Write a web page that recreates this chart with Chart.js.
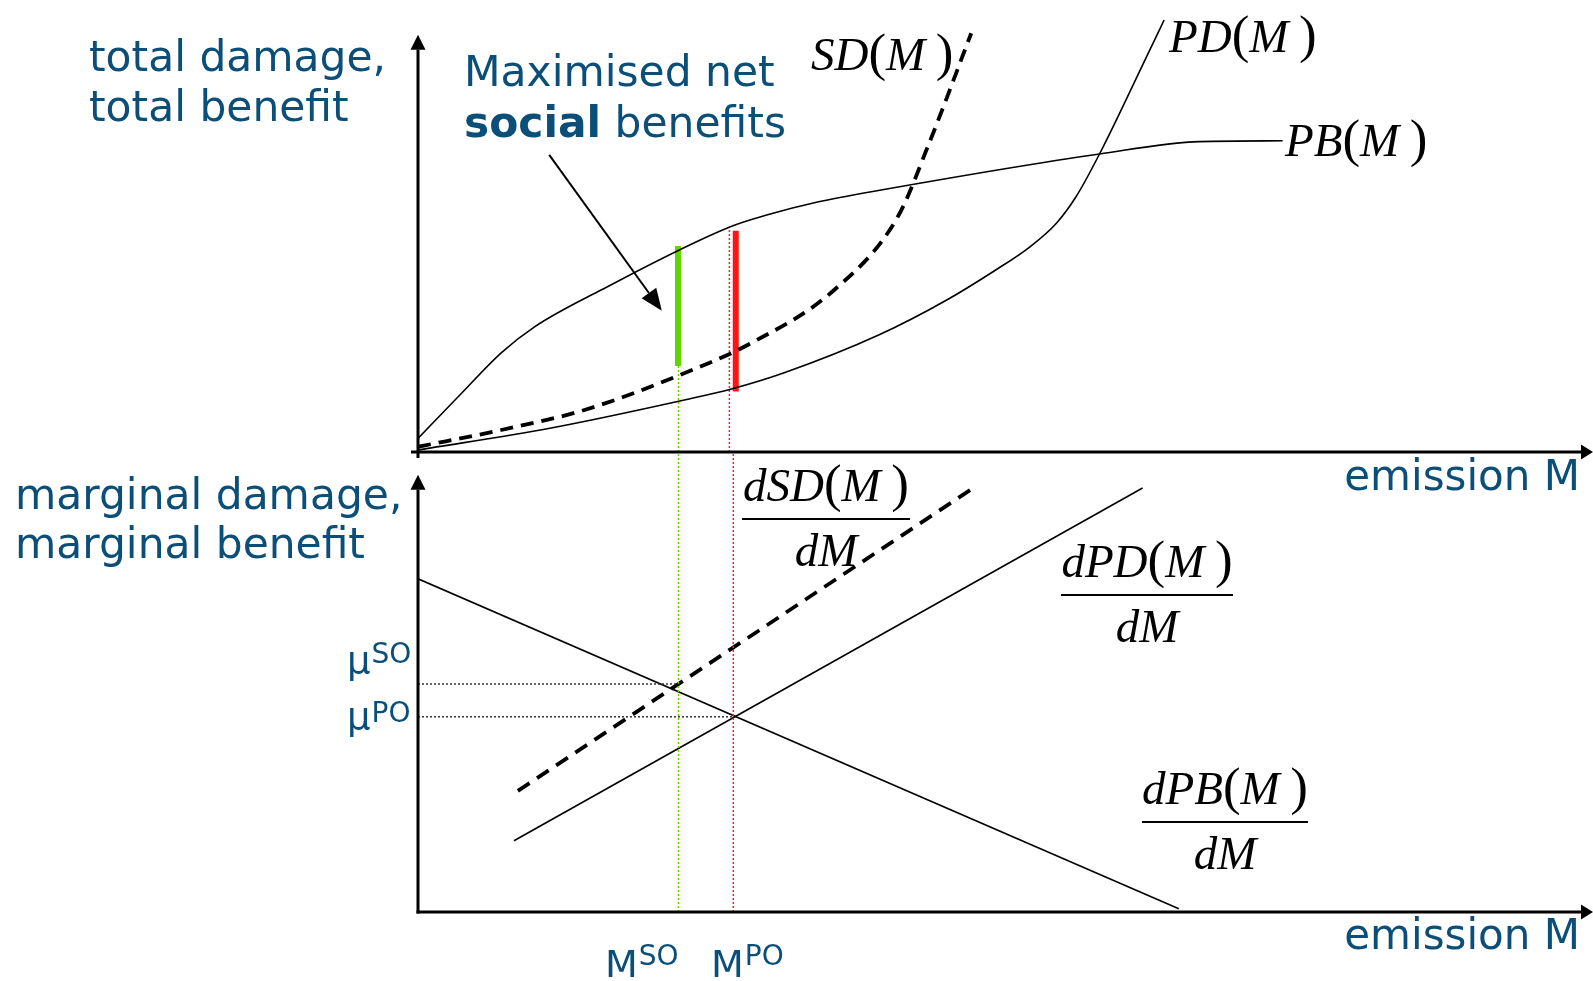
<!DOCTYPE html>
<html>
<head>
<meta charset="utf-8">
<script src="https://cdn.jsdelivr.net/npm/chart.js@4.4.0/dist/chart.umd.min.js"></script>
<style>
html, body { margin: 0; padding: 0; background: #fff; }
body { width: 1593px; height: 981px; position: relative; overflow: hidden; }
canvas { position: absolute; left: 0; }
#topChart { top: 0; }
#botChart { top: 440px; }
</style>
</head>
<body>
<canvas id="topChart" width="1593" height="520"></canvas>
<canvas id="botChart" width="1593" height="541"></canvas>
<script>
// ---- data: emission M on x, damage / benefit in chart units on y ----

// upper panel: total curves
const pbM   = [0, 0.41, 0.85, 1.19, 1.87, 3.19, 3.57, 4.08, 4.73, 6.96, 7.98, 8.83];
const pbVal = [0.34, 1.38, 2.48, 3.13, 4.05, 5.63, 5.93, 6.25, 6.55, 7.45, 7.76, 7.78];
const pdM   = [0, 1.36, 2.72, 3.21, 3.74, 4.71, 5.4, 5.9, 6.25, 6.52, 6.72, 6.96, 7.44, 7.62];
const pdVal = [0.05, 0.6, 1.3, 1.58, 1.98, 2.93, 3.8, 4.55, 5.13, 5.72, 6.38, 7.45, 9.88, 10.8];
const sdM   = [0, 0.85, 1.7, 2.65, 3.4, 4.25, 4.9, 5.22, 5.65];
const sdVal = [0.13, 0.55, 1.05, 1.9, 2.72, 4.05, 5.88, 7.72, 10.47];

// lower panel: marginal curves (straight lines, two end points each)
const mpbM = [0, 7.77];    const mpbVal = [8.33, 0.08];
const mpdM = [0.98, 7.4];  const mpdVal = [1.78, 10.6];
const msdM = [1.02, 5.67]; const msdVal = [3.03, 10.6];

// optima
const mSO = 2.66, mPO = 3.22;
const muSO = 5.7, muPO = 4.88;
const greenBarM = 2.655, greenBar = [2.15, 5.15];   // SD(M_SO) .. PB(M_SO)
const redBarM = 3.245,   redBar   = [1.51, 5.53];   // PD(M_PO) .. PB(M_PO)
const redDotTopM = 3.18, redDotTop = 5.6;

// axis extents
const xMax = 12;
const topYMax = 11.3, botYMax = 11.5;
const topAxisTip = 10.43, botAxisTip = 10.93;

// note arrow "Maximised net social benefits" (from, to) in chart units
const noteFrom = [1.34, 7.43];
const noteTo   = [2.49, 3.53];

const TXT_BLUE = '#0b4f79';
const SANS = '"DejaVu Sans", Verdana, sans-serif';
const SERIF = '"Liberation Serif", "Times New Roman", serif';
const TXT = 42.4;

function pts(xs, ys) {
    return xs.map((x, i) => ({ x: x, y: ys[i] }));
}

function curve(data, opts) {
    return Object.assign({
        data: data,
        showLine: true,
        pointRadius: 0,
        borderColor: '#000',
        borderWidth: 1.6,
        fill: false,
        tension: 0
    }, opts);
}

function drawArrow(ctx, x1, y1, x2, y2, width, headLen, headHalf) {
    const a = Math.atan2(y2 - y1, x2 - x1);
    const bx = x2 - headLen * Math.cos(a), by = y2 - headLen * Math.sin(a);
    ctx.save();
    ctx.strokeStyle = '#000';
    ctx.fillStyle = '#000';
    ctx.lineWidth = width;
    ctx.beginPath();
    ctx.moveTo(x1, y1);
    ctx.lineTo(bx, by);
    ctx.stroke();
    ctx.beginPath();
    ctx.moveTo(x2, y2);
    ctx.lineTo(bx + headHalf * Math.sin(a), by - headHalf * Math.cos(a));
    ctx.lineTo(bx - headHalf * Math.sin(a), by + headHalf * Math.cos(a));
    ctx.closePath();
    ctx.fill();
    ctx.restore();
}

function label(ctx, text, x, y, size, align, weight) {
    ctx.save();
    ctx.fillStyle = TXT_BLUE;
    ctx.font = (weight || 'normal') + ' ' + size + 'px ' + SANS;
    ctx.textAlign = align || 'left';
    ctx.textBaseline = 'alphabetic';
    ctx.fillText(text, x, y);
    const w = ctx.measureText(text).width;
    ctx.restore();
    return w;
}

// base letter with a superscript, e.g. M^SO
function supLabel(ctx, base, sup, x, y, size, supSize, rise) {
    const w = label(ctx, base, x, y, size);
    label(ctx, sup, x + w + 1, y - rise, supSize);
}

// math text: parts are [text, italic]; upright parts are the brackets
function mathText(ctx, parts, x, y, size, align) {
    ctx.save();
    ctx.fillStyle = '#000';
    ctx.textAlign = 'left';
    ctx.textBaseline = 'alphabetic';
    const fonts = parts.map(p => p[1] ? 'italic ' + size + 'px ' + SERIF
                                      : Math.round(size * 1.12) + 'px ' + SERIF);
    let total = 0;
    const widths = parts.map((p, i) => {
        ctx.font = fonts[i];
        const w = ctx.measureText(p[0]).width;
        total += w;
        return w;
    });
    let cx = align === 'center' ? x - total / 2 : x;
    parts.forEach((p, i) => {
        ctx.font = fonts[i];
        ctx.fillText(p[0], cx, y);
        cx += widths[i];
    });
    ctx.restore();
    return total;
}

function funcOfM(name) {
    return [[name, true], ['(', false], ['M', true], ['\u2009', false], [')', false]];
}

function fraction(ctx, num, cx, lineY, halfW, size) {
    mathText(ctx, num, cx, lineY - 18, size, 'center');
    ctx.save();
    ctx.strokeStyle = '#000';
    ctx.lineWidth = 2;
    ctx.beginPath();
    ctx.moveTo(cx - halfW, lineY);
    ctx.lineTo(cx + halfW, lineY);
    ctx.stroke();
    ctx.restore();
    mathText(ctx, [['dM', true]], cx, lineY + 47, size, 'center');
}

const topDecor = {
    id: 'topDecor',
    afterDatasetsDraw(chart) {
        const ctx = chart.ctx, xs = chart.scales.x, ys = chart.scales.y;
        const x0 = xs.getPixelForValue(0), y0 = ys.getPixelForValue(0);

        // axes
        drawArrow(ctx, x0, y0 + 6, x0, ys.getPixelForValue(topAxisTip), 3, 15, 7.5);
        drawArrow(ctx, x0 - 7, y0, xs.getPixelForValue(xMax), y0, 3, 12, 7.5);

        // note arrow
        drawArrow(ctx, xs.getPixelForValue(noteFrom[0]), ys.getPixelForValue(noteFrom[1]),
                  xs.getPixelForValue(noteTo[0]), ys.getPixelForValue(noteTo[1]), 2, 22, 9);

        // texts
        label(ctx, 'total damage,', 89, 71, TXT);
        label(ctx, 'total benefit', 89, 121, TXT);
        label(ctx, 'Maximised net', 464, 86, TXT);
        const w = label(ctx, 'social', 464, 137, TXT, 'left', 'bold');
        label(ctx, ' benefits', 464 + w, 137, TXT);
        label(ctx, 'emission M', 1580, 490, 42, 'right');

        mathText(ctx, funcOfM('SD'), 811, 70, 47);
        mathText(ctx, funcOfM('PD'), 1169, 52, 47);
        mathText(ctx, funcOfM('PB'), 1285, 156, 47);
    }
};

const botDecor = {
    id: 'botDecor',
    afterDatasetsDraw(chart) {
        const ctx = chart.ctx, xs = chart.scales.x, ys = chart.scales.y;
        const x0 = xs.getPixelForValue(0), y0 = ys.getPixelForValue(0);

        drawArrow(ctx, x0, y0 + 1.5, x0, ys.getPixelForValue(botAxisTip), 3, 15, 7.5);
        drawArrow(ctx, x0 - 1.5, y0, xs.getPixelForValue(xMax), y0, 3, 12, 7.5);

        label(ctx, 'marginal damage,', 15, 69, TXT);
        label(ctx, 'marginal benefit', 15, 118, TXT);
        label(ctx, 'emission M', 1580, 509, 42, 'right');

        supLabel(ctx, '\u03bc', 'SO', 347, 233, 37, 28, 10);
        supLabel(ctx, '\u03bc', 'PO', 347, 289, 37, 28, 7);
        supLabel(ctx, 'M', 'SO', 605, 537, 38, 28, 12);
        supLabel(ctx, 'M', 'PO', 711, 537, 38, 28, 12);

        fraction(ctx, [['d', true]].concat(funcOfM('SD')), 826, 79, 84, 47);
        fraction(ctx, [['d', true]].concat(funcOfM('PD')), 1147, 155, 86, 47);
        fraction(ctx, [['d', true]].concat(funcOfM('PB')), 1225, 382, 83, 47);
    }
};

const baseOptions = (padding, yMax) => ({
    responsive: false,
    animation: false,
    events: [],
    layout: { padding: padding },
    plugins: { legend: { display: false }, tooltip: { enabled: false } },
    scales: {
        x: { type: 'linear', min: 0, max: xMax, display: false },
        y: { type: 'linear', min: 0, max: yMax, display: false }
    }
});

new Chart(document.getElementById('topChart'), {
    type: 'scatter',
    data: {
        datasets: [
            curve(pts(pbM, pbVal), { cubicInterpolationMode: 'monotone' }),
            curve(pts(pdM, pdVal), { cubicInterpolationMode: 'monotone' }),
            curve(pts(sdM, sdVal), { cubicInterpolationMode: 'monotone', borderWidth: 3.8, borderDash: [13, 8] }),
            curve(pts([mSO, mSO], [0, greenBar[0]]), { borderColor: '#5fd600', borderWidth: 1.5, borderDash: [2, 2] }),
            curve(pts([redDotTopM, redDotTopM], [0, redDotTop]), { borderColor: '#ff2020', borderWidth: 1.5, borderDash: [2, 2] }),
            curve(pts([greenBarM, greenBarM], greenBar), { borderColor: '#5fd600', borderWidth: 6 }),
            curve(pts([redBarM, redBarM], redBar), { borderColor: '#ff1414', borderWidth: 6 })
        ]
    },
    options: baseOptions({ left: 418, right: 0, top: 0, bottom: 68 }, topYMax),
    plugins: [topDecor]
});

new Chart(document.getElementById('botChart'), {
    type: 'scatter',
    data: {
        datasets: [
            curve(pts([0, mSO], [muSO, muSO]), { borderColor: '#333', borderWidth: 1.5, borderDash: [2, 2] }),
            curve(pts([0, mPO], [muPO, muPO]), { borderColor: '#333', borderWidth: 1.5, borderDash: [2, 2] }),
            curve(pts([mSO, mSO], [0, botYMax]), { borderColor: '#5fd600', borderWidth: 1.5, borderDash: [2, 2] }),
            curve(pts([mPO, mPO], [0, botYMax]), { borderColor: '#ff2020', borderWidth: 1.5, borderDash: [2, 2] }),
            curve(pts(mpbM, mpbVal)),
            curve(pts(mpdM, mpdVal)),
            curve(pts(msdM, msdVal), { borderWidth: 3.8, borderDash: [14, 9] })
        ]
    },
    options: baseOptions({ left: 418, right: 0, top: 12, bottom: 69 }, botYMax),
    plugins: [botDecor]
});
</script>
</body>
</html>
